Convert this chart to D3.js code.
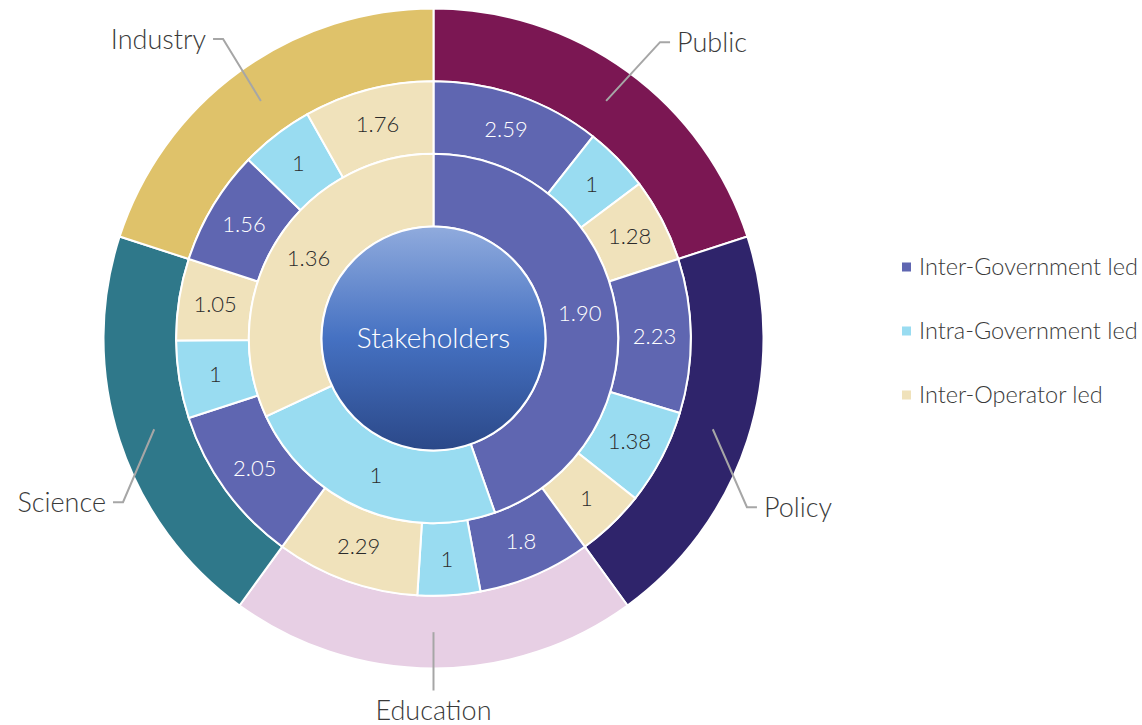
<!DOCTYPE html>
<html>
<head>
<meta charset="utf-8">
<script src="https://cdn.jsdelivr.net/npm/d3@7"></script>
<style>
  body { margin: 0; background: #fff; }
  text { font-family: Lato, "Noto Sans", sans-serif; font-weight: 300; }
</style>
</head>
<body>
<div id="chart"></div>
<script>
// data
var stakeholders = ["Public", "Policy", "Education", "Science", "Industry"];
var modes = ["Inter-Government led", "Intra-Government led", "Inter-Operator led"];
var modeTotals = ["1.90", "1", "1.36"];
var publicVals = [2.59, 1, 1.28];
var policyVals = [2.23, 1.38, 1];
var educationVals = [1.8, 1, 2.29];
var scienceVals = [2.05, 1, 1.05];
var industryVals = [1.56, 1, 1.76];
var centerLabel = "Stakeholders";

var stakeColors = ["#7b1753", "#2f246b", "#e7cfe4", "#2f788a", "#dfc26a"];
var modeColors = ["#5f66b1", "#99dcf1", "#f0e2bb"];
var modeText = ["#fff", "#2b2b2b", "#2b2b2b"];

// leader layout for outer labels: elbow angle (deg) and radius
var leaderAngle = [37.4, 118.3, 180, 242.2, 324.9];
var leaderRadius = [373, 356, 352, 351, 366];

var W = 1142, H = 725;
var cx = 433.5, cy = 338.5;

var svg = d3.select("#chart").append("svg")
  .attr("width", W).attr("height", H);

var defs = svg.append("defs");
var grad = defs.append("linearGradient").attr("id", "centerGrad")
  .attr("x1", 0).attr("y1", 0).attr("x2", 0).attr("y2", 1);
grad.append("stop").attr("offset", "0%").attr("stop-color", "#90abdd");
grad.append("stop").attr("offset", "50%").attr("stop-color", "#4571c2");
grad.append("stop").attr("offset", "100%").attr("stop-color", "#2b4888");

var g = svg.append("g").attr("transform", "translate(" + cx + "," + cy + ")");

// ring radii
var r = d3.scaleLinear().domain([0, 3]).range([112, 330]);

var arc = d3.arc();

// outer ring: stakeholders, equal share each
var band = d3.scaleBand().domain(stakeholders).range([0, 2 * Math.PI]);

var groups = [publicVals, policyVals, educationVals, scienceVals, industryVals];

var outer = stakeholders.map(function(s, i) {
  return { name: s, i: i, startAngle: band(s), endAngle: band(s) + band.bandwidth(),
           innerRadius: r(2), outerRadius: r(3) };
});

// middle ring: split each stakeholder band by its values
var middle = [];
groups.forEach(function(vals, i) {
  var s = stakeholders[i];
  var a = d3.scaleLinear().domain([0, d3.sum(vals)])
    .range([band(s), band(s) + band.bandwidth()]);
  var acc = 0;
  vals.forEach(function(v, j) {
    middle.push({ value: v, mode: j, startAngle: a(acc), endAngle: a(acc + v),
                  innerRadius: r(1), outerRadius: r(2) });
    acc += v;
  });
});

// inner ring: mode totals
var pie = d3.pie().sort(null).value(function(d) { return +d; });
var inner = pie(modeTotals).map(function(d, j) {
  d.mode = j; d.innerRadius = r(0); d.outerRadius = r(1);
  return d;
});

g.selectAll(".outer").data(outer).enter().append("path")
  .attr("class", "outer")
  .attr("d", arc)
  .attr("fill", function(d) { return stakeColors[d.i]; })
  .attr("stroke", "#fff").attr("stroke-width", 2);

g.selectAll(".middle").data(middle).enter().append("path")
  .attr("class", "middle")
  .attr("d", arc)
  .attr("fill", function(d) { return modeColors[d.mode]; })
  .attr("stroke", "#fff").attr("stroke-width", 2);

g.selectAll(".inner").data(inner).enter().append("path")
  .attr("class", "inner")
  .attr("d", arc)
  .attr("fill", function(d) { return modeColors[d.mode]; })
  .attr("stroke", "#fff").attr("stroke-width", 2);

g.append("circle").attr("r", r(0))
  .attr("fill", "url(#centerGrad)")
  .attr("stroke", "#fff").attr("stroke-width", 2);

g.append("text").text(centerLabel)
  .attr("text-anchor", "middle").attr("dy", "0.35em")
  .attr("font-size", 28).attr("fill", "#fff");

// value labels
g.selectAll(".mlabel").data(middle).enter().append("text")
  .attr("class", "mlabel")
  .attr("transform", function(d) { return "translate(" + arc.centroid(d) + ")"; })
  .attr("text-anchor", "middle").attr("dy", "0.35em")
  .attr("font-size", 22)
  .attr("fill", function(d) { return modeText[d.mode]; })
  .text(function(d) { return d.value; });

g.selectAll(".ilabel").data(inner).enter().append("text")
  .attr("class", "ilabel")
  .attr("transform", function(d) { return "translate(" + arc.centroid(d) + ")"; })
  .attr("text-anchor", "middle").attr("dy", "0.35em")
  .attr("font-size", 22)
  .attr("fill", function(d) { return modeText[d.mode]; })
  .text(function(d) { return d.data; });

// outer labels with leader lines
function polar(angDeg, rad) {
  var a = angDeg * Math.PI / 180;
  return [rad * Math.sin(a), -rad * Math.cos(a)];
}

outer.forEach(function(d, i) {
  var c = arc.centroid(d);
  var e = polar(leaderAngle[i], leaderRadius[i]);
  var side = Math.abs(e[0]) < 1 ? 0 : (e[0] > 0 ? 1 : -1);
  var pts = [c, e];
  if (side !== 0) pts.push([e[0] + side * 10, e[1]]);
  g.append("path")
    .attr("d", d3.line()(pts))
    .attr("fill", "none").attr("stroke", "#a6a6a6").attr("stroke-width", 2);
  var last = pts[pts.length - 1];
  var t = g.append("text").text(d.name)
    .attr("font-size", 27).attr("fill", "#3a3a3a");
  if (side === 0) {
    t.attr("x", last[0]).attr("y", last[1] + 20)
      .attr("text-anchor", "middle").attr("dy", "0.35em");
  } else {
    t.attr("x", last[0] + side * 7).attr("y", last[1])
      .attr("text-anchor", side > 0 ? "start" : "end").attr("dy", "0.35em");
  }
});

// legend
var legend = svg.append("g").attr("transform", "translate(902,267)");
var rows = legend.selectAll("g").data(modes).enter().append("g")
  .attr("transform", function(d, i) { return "translate(0," + (i * 64) + ")"; });
rows.append("rect").attr("x", 0).attr("y", -4.5).attr("width", 9).attr("height", 9)
  .attr("fill", function(d, i) { return modeColors[i]; });
rows.append("text").attr("x", 17).attr("dy", "0.35em")
  .attr("font-size", 23.5).attr("fill", "#3a3a3a")
  .text(function(d) { return d; });
</script>
</body>
</html>
